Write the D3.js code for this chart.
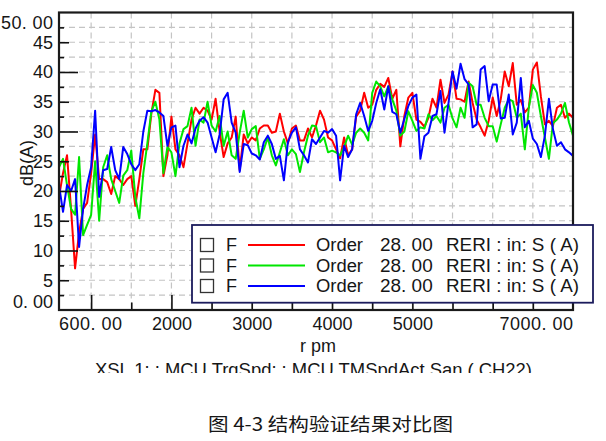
<!DOCTYPE html>
<html><head><meta charset="utf-8">
<script src="https://cdn.jsdelivr.net/npm/d3@7"></script>
<style>
body{margin:0;background:#fff;}
svg{display:block;}
text{font-family:"Liberation Sans",Arial,sans-serif;fill:#161616;}
</style>
</head><body>
<svg id="c" width="606" height="441"></svg>
<script>
// ---------------- data ----------------
const rpm = [600,650,700,750,800,850,900,950,1000,1050,
1100,1150,1200,1250,1300,1350,1400,1450,1500,1550,
1600,1650,1700,1750,1800,1850,1900,1950,2000,2050,
2100,2150,2200,2250,2300,2350,2400,2450,2500,2550,
2600,2650,2700,2750,2800,2850,2900,2950,3000,3050,
3100,3150,3200,3250,3300,3350,3400,3450,3500,3550,
3600,3650,3700,3750,3800,3850,3900,3950,4000,4050,
4100,4150,4200,4250,4300,4350,4400,4450,4500,4550,
4600,4650,4700,4750,4800,4850,4900,4950,5000,5050,
5100,5150,5200,5250,5300,5350,5400,5450,5500,5550,
5600,5650,5700,5750,5800,5850,5900,5950,6000,6050,
6100,6150,6200,6250,6300,6350,6400,6450,6500,6550,
6600,6650,6700,6750,6800,6850,6900,6950,7000];

const redValues = [19,23,26,17,7,13,17,18,23,29.5,
22,22,21.5,19.5,22.5,22,21,22,22.5,17.5,
22,27,27,33,37,36.5,22.5,26,32.5,27,
26,24,28,32,34,33,34,33.5,32,35.5,
30,25.7,28,29,32.5,23.5,29.5,28,29,28.5,
30.5,31,31,29.8,30,33,30,28,30.5,31,
28.5,28.5,30.5,29,31,33.5,32,29,28.5,27,
25.5,29,26,27,32.5,33.5,36.5,34,34.5,37,
38,37.5,39,35.5,37,27.5,32.6,35.7,36.5,32,
31.6,30.8,32.3,35.5,34,38.7,34.8,36.2,40.1,35.5,
35.4,35,38.4,34.8,32,30.7,29.3,31.8,35.7,32.6,
35.4,40.1,37.6,41.5,34.5,35.3,33.2,34,40.4,41.6,
35.9,31.2,31.8,30.9,34,34.5,32.3,33,32.3];

const greenValues = [24,25.4,21,17,16,25.7,12.6,14.3,16,25,
15,24,26,22,20,18,22.6,23.5,26.8,19,
15.4,23,28,33.4,35,32,23,27.4,26.5,22.5,
28,30.4,30.9,34,27.6,32,31.5,35,31,30,
32.6,27.6,30,26,25.4,29.8,33.5,29,30.4,30.9,
25.4,27,29,26,24.3,26.5,28.7,26,27,26.2,
23.2,26.5,29.3,31,30.9,28.2,29,26.5,26.8,26.5,
26,27.4,29.3,27.8,29.8,30.5,29.8,28.5,36.5,38.4,
37.6,35.9,37.6,35.4,33.5,29.3,30,33.4,31.8,30.1,
30.7,30.5,32.9,31.9,32.6,31.5,34,34.5,32.2,30.7,
34,32.3,38.2,37.6,34.5,34.5,32.3,30.9,30.9,28.3,
31.2,34,35.4,35.1,32.3,33,27,34,37.8,36.5,
32.6,29,25.4,31.4,32,33,34.8,31.5,29.3];

const blueValues = [21,16.5,21,20,22,10.6,17,21,24,33.5,
19,23.5,23.7,27.4,23.5,22,27.4,26.2,24.5,23.5,
24.5,30,33.5,33.4,33.6,33.2,32.6,27.6,30.7,31,
24,27.6,29.5,28,30.5,31.8,32.4,31.5,29,26.5,
29.5,35.4,36.5,31.5,29.8,23.2,27.9,27.7,26.3,26,
25.3,28.2,29.3,27.9,25.4,25.9,21.8,28.2,29.8,30.7,
27,26,24.8,28.7,27.9,29,30.1,29.8,30.4,29.3,
21.8,27.6,25.7,27,32.9,34.8,32.6,30.1,31.8,34.8,
37.1,33.7,37.6,33.3,32.9,29.8,32.1,34.3,35.7,36.2,
25.4,29.2,29.8,32.6,32.9,36.8,29.8,34.8,40.1,37.2,
41.4,38.8,37.9,30.7,31.2,40.4,41,35.1,37.9,37.9,
32.2,32.3,36.2,29.5,31.5,39,30.7,31.8,28.8,27.9,
25.7,29.3,35.5,30.4,27.6,28.2,27,26.5,25.9];

const seriesColors = ["#ff0000","#00e600","#0000ff"];
const legendLabels = ["Order","Order","Order"];
const yMajorTicks = [10,20,30,40];
const yMidTicks = [5,15,25,35,45];
const yMinorTicks = [2.5,7.5,12.5,17.5,22.5,27.5,32.5,37.5,42.5,47.5];
const yLabelTicks = [5,10,15,20,25,30,35,40,45];
const xMajorTicks = [1000,2000,3000,4000,5000,6000];
const xMidTicks = [1500,2500,3500,4500,5500,6500];
const xLabelTicks = [2000,3000,4000,5000];
const hGrid = [2.5,5,7.5,10,12.5,15,17.5,20,22.5,25,27.5,30,32.5,35,37.5,40,42.5,45,47.5];
const vGrid = [1000,1500,2000,2500,3000,3500,4000,4500,5000,5500,6000,6500];

// ---------------- chart ----------------
const svg = d3.select("#c");
const L = 59, R = 573, T = 12.5, B = 310;
const x = d3.scaleLinear().domain([600,7000]).range([L,R]);
const y = d3.scaleLinear().domain([0,50]).range([B,T]);

// grid
svg.append("g").selectAll("line").data(hGrid).join("line")
  .attr("x1",L).attr("x2",R).attr("y1",d=>y(d)).attr("y2",d=>y(d))
  .attr("stroke","#c4c4c4").attr("stroke-width",1.2).attr("stroke-dasharray","6,4");
svg.append("g").selectAll("line").data(vGrid).join("line")
  .attr("y1",T).attr("y2",B).attr("x1",d=>x(d)).attr("x2",d=>x(d))
  .attr("stroke","#c4c4c4").attr("stroke-width",1.2).attr("stroke-dasharray","6,4");

// clip
svg.append("clipPath").attr("id","plotclip").append("rect")
  .attr("x",L).attr("y",T).attr("width",R-L).attr("height",B-T);

const line = d3.line().x((d,i)=>x(rpm[i])).y(d=>y(d));
const seriesData = [redValues, greenValues, blueValues];
svg.append("g").attr("clip-path","url(#plotclip)")
  .selectAll("path").data(seriesData).join("path")
  .attr("d",line).attr("fill","none")
  .attr("stroke",(d,i)=>seriesColors[i]).attr("stroke-width",2)
  .attr("stroke-linejoin","round");

// y ticks (inside)
function yTicks(vals,len){
  const g = svg.append("g").attr("transform",`translate(${L},0)`)
    .call(d3.axisRight(y).tickValues(vals).tickSize(len).tickFormat(""));
  g.select(".domain").remove();
  g.selectAll(".tick line").attr("stroke","#111").attr("stroke-width",1.6);
}
yTicks(yMajorTicks,19); yTicks(yMidTicks,10); yTicks(yMinorTicks,5);

// x ticks (inside)
function xTicks(vals,len){
  const g = svg.append("g").attr("transform",`translate(0,${B})`)
    .call(d3.axisTop(x).tickValues(vals).tickSize(len).tickFormat(""));
  g.select(".domain").remove();
  g.selectAll(".tick line").attr("stroke","#111").attr("stroke-width",1.6);
}
xTicks(xMajorTicks,15); xTicks(xMidTicks,7.5);

// y labels
const yl = svg.append("g").attr("transform",`translate(${L},0)`)
  .call(d3.axisLeft(y).tickValues(yLabelTicks).tickSize(0).tickPadding(6).tickFormat(d3.format("d")));
yl.select(".domain").remove();
yl.selectAll("text").style("font-size","18px").attr("fill","#161616")
  .style("font-family","Liberation Sans, Arial, sans-serif");
svg.append("text").attr("x",L-6).attr("y",y(50)+10.5).attr("dy","0.35em")
  .attr("text-anchor","end").attr("textLength",52).attr("lengthAdjust","spacing")
  .style("font-size","18px").text("50. 00");
svg.append("text").attr("x",L-6).attr("y",y(0)-8.5).attr("dy","0.35em")
  .attr("text-anchor","end").attr("textLength",40).attr("lengthAdjust","spacing")
  .style("font-size","18px").text("0. 00");

// x labels
const xl = svg.append("g").attr("transform",`translate(0,${B})`)
  .call(d3.axisBottom(x).tickValues(xLabelTicks).tickSize(0).tickPadding(7.5).tickFormat(d3.format("d")));
xl.select(".domain").remove();
xl.selectAll("text").style("font-size","18px").attr("fill","#161616")
  .style("font-family","Liberation Sans, Arial, sans-serif");
svg.append("text").attr("x",x(600)).attr("y",330).attr("text-anchor","start")
  .attr("textLength",63).attr("lengthAdjust","spacing")
  .style("font-size","18px").text("600. 00");
svg.append("text").attr("x",x(7000)).attr("y",330).attr("text-anchor","end")
  .attr("textLength",73.5).attr("lengthAdjust","spacing")
  .style("font-size","18px").text("7000. 00");

// frame
svg.append("rect").attr("x",L).attr("y",T).attr("width",R-L).attr("height",B-T)
  .attr("fill","none").attr("stroke","#1a1a1a").attr("stroke-width",2.2);

// axis titles
svg.append("text").attr("transform","translate(33,163) rotate(-90)")
  .attr("text-anchor","middle").style("font-size","18px").text("dB(A)");
svg.append("text").attr("x",318).attr("y",352).attr("text-anchor","middle")
  .style("font-size","18px").text("r pm");
svg.append("clipPath").attr("id","subclip").append("rect")
  .attr("x",0).attr("y",355).attr("width",606).attr("height",18);
svg.append("text").attr("x",95).attr("y",376).attr("clip-path","url(#subclip)")
  .attr("textLength",437).attr("lengthAdjust","spacingAndGlyphs")
  .style("font-size","18px").text("XSL  1: : MCU  TrqSpd: : MCU  TMSpdAct  San  ( CH22)");

// legend
const lg = svg.append("g");
lg.append("rect").attr("x",192).attr("y",225).attr("width",401).attr("height",77.7)
  .attr("fill","#fff").attr("stroke","#1b1b5c").attr("stroke-width",1.8);
const rowsY = [245,265.5,286];
const rows = lg.selectAll("g.row").data(seriesColors).join("g").attr("class","row")
  .attr("transform",(d,i)=>`translate(0,${rowsY[i]})`);
rows.append("rect").attr("x",200.5).attr("y",-6.5).attr("width",13).attr("height",13)
  .attr("fill","#fff").attr("stroke","#333").attr("stroke-width",1.3);
rows.append("text").attr("x",226).attr("dy","0.36em").style("font-size","18px").text("F");
rows.append("line").attr("x1",248).attr("x2",305).attr("y1",0).attr("y2",0)
  .attr("stroke",d=>d).attr("stroke-width",1.8);
rows.append("text").attr("x",316).attr("dy","0.36em").attr("textLength",47)
  .attr("lengthAdjust","spacingAndGlyphs").style("font-size","18px").text((d,i)=>legendLabels[i]);
rows.append("text").attr("x",380).attr("dy","0.36em").attr("textLength",52.7)
  .attr("lengthAdjust","spacingAndGlyphs").style("font-size","18px").text("28. 00");
rows.append("text").attr("x",446).attr("dy","0.36em").attr("textLength",133)
  .attr("lengthAdjust","spacingAndGlyphs").style("font-size","18px").text("RERI : in: S ( A)");

// caption
svg.append("text").attr("x",208).attr("y",431).attr("textLength",245)
  .attr("lengthAdjust","spacingAndGlyphs")
  .style("font-family","'Noto Sans CJK SC',sans-serif").style("font-size","18.5px")
  .attr("fill","#2a2a2a").text("图 4-3 结构验证结果对比图");
</script>
</body></html>
